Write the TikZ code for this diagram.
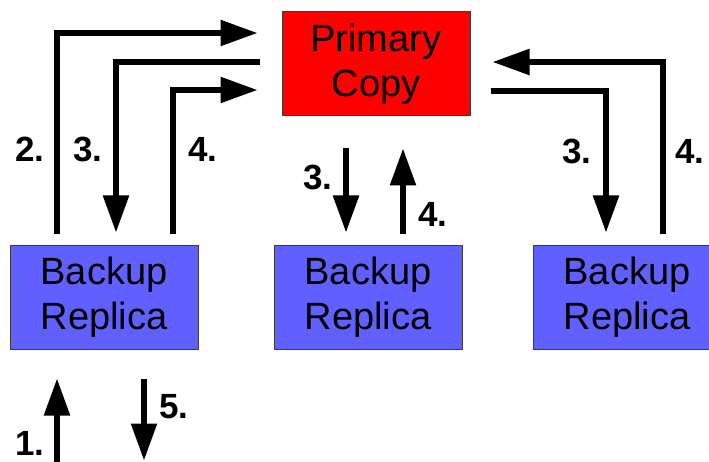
\documentclass[tikz,border=0pt]{standalone}
\usepackage{fontspec}
\setmainfont{Liberation Sans}
\usetikzlibrary{arrows.meta,calc}
\definecolor{backupblue}{RGB}{96,96,255}
\definecolor{boxborder}{RGB}{60,60,60}
\begin{document}
\begin{tikzpicture}[x=1pt,y=-1pt,
  boxstyle/.style={draw=boxborder, line width=1pt, minimum width=188pt, inner sep=0pt, align=center, font=\fontsize{38}{45}\selectfont},
  primarybox/.style={boxstyle, fill=red, minimum height=104pt},
  backupbox/.style={boxstyle, fill=backupblue, minimum height=103pt},
  conn/.style={line width=5.5pt, -{Triangle[length=37pt,width=25pt]}},
  steplabel/.style={font=\fontsize{35}{35}\selectfont\bfseries, inner sep=0pt}]
\useasboundingbox (0,0) rectangle (709,462);

\node[primarybox] (p) at (376,64) {Primary\\Copy};
\node[backupbox] (b1) at (104,297.5) {Backup\\Replica};
\node[backupbox] (b2) at (368,297.5) {Backup\\Replica};
\node[backupbox] (b3) at (627,297.5) {Backup\\Replica};

% left replica
\draw[conn] ($(b1.north)+(-47,-11)$) |- ($(p.west)+(-24,-31)$);
\draw[conn] ($(p.west)+(-22,-2)$) -| ($(b1.north)+(12,-13)$);
\draw[conn] ($(b1.north)+(69,-11)$) |- ($(p.west)+(-24,26)$);
% middle replica
\draw[conn] ($(p.south)+(-30,32)$) -- ($(b2.north)+(-22,-13)$);
\draw[conn] ($(b2.north)+(35,-11)$) -- ($(p.south)+(27,32)$);
% right replica
\draw[conn] ($(b3.north)+(36,-11)$) |- ($(p.east)+(22,-2)$);
\draw[conn] ($(p.east)+(20,27)$) -| ($(b3.north)+(-21,-13)$);
% client
\draw[conn] ($(b1.south)+(-47,116)$) -- ($(b1.south)+(-47,29)$);
\draw[conn] ($(b1.south)+(40,29)$) -- ($(b1.south)+(40,111)$);

\node[steplabel] (l2) at (30,149) {2.};
\node[steplabel] (l3a) at (88,149) {3.};
\node[steplabel] (l4a) at (203,149) {4.};
\node[steplabel] (l3b) at (318,177) {3.};
\node[steplabel] (l4b) at (433,214) {4.};
\node[steplabel] (l3c) at (577,151) {3.};
\node[steplabel] (l4c) at (690,151) {4.};
\node[steplabel] (l1) at (30,443) {1.};
\node[steplabel] (l5) at (174,407) {5.};
\end{tikzpicture}
\end{document}
